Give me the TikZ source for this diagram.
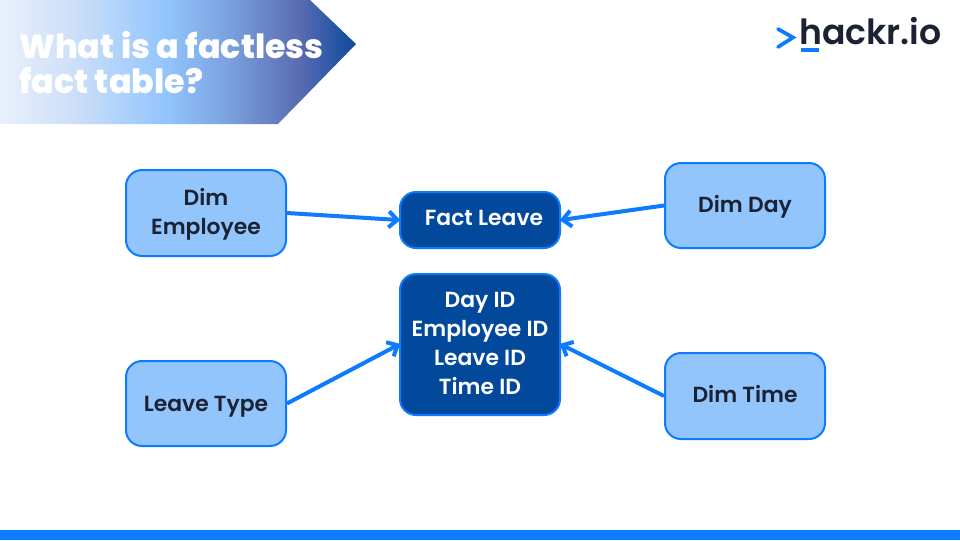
\documentclass[tikz,border=0pt]{standalone}
\usepackage{fontspec}
\setmainfont{Poppins}
\newfontfamily\semi{Poppins SemiBold}
\newfontfamily\heavy{Poppins ExtraBold}
\usetikzlibrary{arrows.meta}
\definecolor{lightbox}{HTML}{93C5FD}
\definecolor{darkbox}{HTML}{03499B}
\definecolor{edgeblue}{HTML}{0D7BFF}
\definecolor{inkdark}{HTML}{1B2233}
\definecolor{gradA}{HTML}{E8F0FC}
\definecolor{gradB}{HTML}{CFE0F8}
\definecolor{gradC}{HTML}{7CA3E0}
\definecolor{gradD}{HTML}{5A6BB2}
\definecolor{gradE}{HTML}{0B4A9E}
\pgfdeclarehorizontalshading{bannershade}{100bp}{
  color(0bp)=(gradA);
  color(25bp)=(gradA);
  color(34.8bp)=(gradB);
  color(48.2bp)=(lightbox);
  color(56.6bp)=(gradC);
  color(67.1bp)=(gradD);
  color(75bp)=(gradE);
  color(100bp)=(gradE)}
\tikzset{
  x=0.75pt,y=-0.75pt,
  boxbase/.style={draw=edgeblue,line width=1.5pt,rounded corners=12pt,minimum width=120pt,inner sep=0pt,anchor=north west},
  textlabel/.style={align=center,inner sep=0pt,font=\semi\fontsize{16.4pt}{21.6pt}\selectfont},
  lightnode/.style={boxbase,fill=lightbox},
  darknode/.style={boxbase,fill=darkbox},
  linkarrow/.style={draw=edgeblue,line width=3pt,-{Straight Barb[length=6.5pt,width=12pt]},shorten >=-1pt},
  titletext/.style={text=white,font=\heavy\fontsize{25pt}{26pt}\selectfont,anchor=base west,inner sep=0pt},
}
\begin{document}
\begin{tikzpicture}
\useasboundingbox (0,0) rectangle (960,540);
\fill[white] (0,0) rectangle (960,540);
% banner
\path[shading=bannershade,shading angle=0] (0,0) -- (310,0) -- (356,44) -- (278,124) -- (0,124) -- cycle;
\node[titletext] (title1) at (19,58) {What is a factless};
\node[titletext] (title2) at (19,93) {fact table?};
% logo
\draw[edgeblue,line width=2.8pt,line cap=round,line join=miter] (778,29) -- (793,37.5) -- (778,47);
\node[text=inkdark,font=\semi\fontsize{26pt}{26pt}\selectfont,anchor=base west,inner sep=0pt] (logo) at (799,44) {hackr.io};
\fill[edgeblue] (801,48) rectangle (819,52);
% boxes
\node[lightnode,minimum height=64.5pt,label={[textlabel,text=inkdark,yshift=-0.75pt]center:Dim\\Employee}] (emp) at (125,169) {};
\node[darknode,minimum height=42pt,label={[textlabel,text=white,xshift=3pt,yshift=1.5pt]center:Fact Leave}] (fact) at (399,191) {};
\node[lightnode,minimum height=63.75pt,label={[textlabel,text=inkdark,yshift=-0.75pt]center:Dim Day}] (day) at (664,162) {};
\node[darknode,minimum height=105.75pt,label={[textlabel,text=white,yshift=0.75pt]center:Day ID\\Employee ID\\Leave ID\\Time ID}] (ids) at (399,273) {};
\node[lightnode,minimum height=63.75pt,label={[textlabel,text=inkdark,yshift=-2.25pt]center:Leave Type}] (type) at (125,360) {};
\node[lightnode,minimum height=64.5pt,label={[textlabel,text=inkdark,yshift=1.5pt]center:Dim Time}] (time) at (664,352) {};
% connectors
\draw[linkarrow] (emp.east) -- (fact.west);
\draw[linkarrow] (day.west) -- (fact.east);
\draw[linkarrow] (type.east) -- (ids.west);
\draw[linkarrow] (time.west) -- (ids.east);
% footer
\fill[edgeblue] (0,530) rectangle (960,540);
\end{tikzpicture}
\end{document}
